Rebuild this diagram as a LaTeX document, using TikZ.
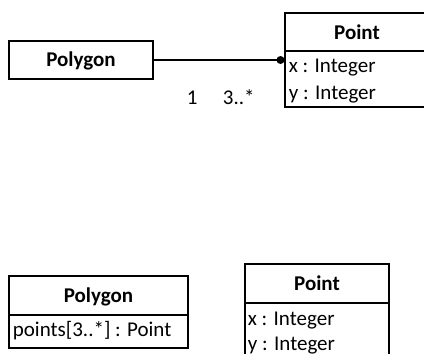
\documentclass[tikz,border=0pt]{standalone}
\usepackage{fontspec}
\setmainfont{Carlito}
\begin{document}
\begin{tikzpicture}[x=1pt,y=-1pt,line width=1.8pt,
  box/.style={draw,rectangle,inner sep=0pt,outer sep=0pt,anchor=north west},
  txt/.style={inner sep=0pt,font=\fontsize{21}{25}\selectfont},
  head/.style={txt,font=\fontsize{21}{25}\selectfont\bfseries,anchor=base},
  attr/.style={txt,anchor=base west}]
\useasboundingbox (0,0) rectangle (424,354);
% top diagram
\node[box,minimum width=144pt,minimum height=38pt] (polyA) at (9,41) {};
\node[head] (polyAt) at (81,66.5) {Polygon};
\node[box,minimum width=144pt,minimum height=38pt] (ptAh) at (285,13) {};
\node[box,minimum width=144pt,minimum height=56pt] (ptAb) at (285,51) {};
\node[head] (ptAt) at (357,39.5) {Point};
\node[attr] (ptAx) at (288,72.5) {x : Integer};
\node[attr] (ptAy) at (288,99.5) {y : Integer};
\coordinate (dot) at (280.5,60);
\draw (polyA.east) -- (dot);
\fill (dot) circle (4pt);
\node[attr] (m1) at (186,104) {1};
\node[attr] (m2) at (222,104) {3..*};
% bottom diagram
\node[box,minimum width=179pt,minimum height=39pt] (polyBh) at (9,276) {};
\node[box,minimum width=179pt,minimum height=33pt] (polyBb) at (9,315) {};
\node[head] (polyBt) at (98.5,302.5) {Polygon};
\node[attr] (polyBa) at (12,336.5) {points[3..*] : Point};
\node[box,minimum width=144pt,minimum height=39pt] (ptBh) at (245,264) {};
\node[box,minimum width=144pt,minimum height=60pt] (ptBb) at (245,303) {};
\node[head] (ptBt) at (317,290) {Point};
\node[attr] (ptBx) at (247,325) {x : Integer};
\node[attr] (ptBy) at (247,350) {y : Integer};
\end{tikzpicture}
\end{document}
